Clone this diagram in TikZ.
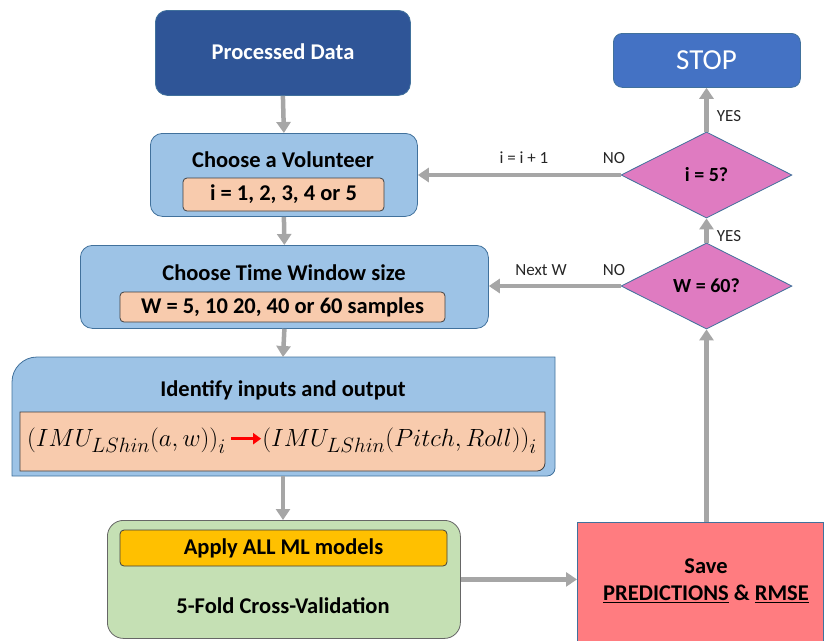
\documentclass[tikz,border=0pt]{standalone}
\usepackage{fontspec}
\setmainfont{Carlito}
\usetikzlibrary{shapes.geometric,arrows.meta}
\definecolor{darkblue}{HTML}{2F5597}
\definecolor{lightblue}{HTML}{9DC3E6}
\definecolor{peach}{HTML}{F8CBAD}
\definecolor{stopblue}{HTML}{4472C4}
\definecolor{edgeblue}{HTML}{41719C}
\definecolor{pinkd}{HTML}{DF7BC1}
\definecolor{greenb}{HTML}{C5E0B4}
\definecolor{yellowb}{HTML}{FFC000}
\definecolor{redb}{HTML}{FF7C80}
\definecolor{arrowgray}{HTML}{A6A6A6}
\tikzset{
  box/.style={draw=edgeblue, line width=0.8pt, rounded corners=12pt, inner sep=0pt, anchor=north west},
  inner/.style={draw=black!75, line width=0.8pt, fill=peach, rounded corners=4pt, inner sep=0pt},
  flow/.style={draw=arrowgray, line width=4.5pt, -{Triangle[length=11pt,width=14pt]}},
  dec/.style={diamond, draw=edgeblue, line width=0.8pt, fill=pinkd, aspect=2, inner sep=0pt, minimum width=171pt, minimum height=86pt, font=\fontsize{20}{22}\selectfont\bfseries},
  lbl/.style={font=\fontsize{17}{19}\selectfont, text=black!85},
  ttl/.style={font=\fontsize{22.5}{25}\selectfont\bfseries}
}
\newcommand{\redarr}{\tikz[baseline=-0.6ex]\draw[red, line width=2.5pt, -{Triangle[length=8pt,width=11pt]}] (0,0) -- (30pt,0);}
\begin{document}
\begin{tikzpicture}[x=1pt,y=-1pt]
\useasboundingbox (0,0) rectangle (824,640);
% Processed data
\node[box, fill=darkblue, minimum width=255pt, minimum height=85pt] (pd) at (155,10) {};
\node[ttl, text=white] at (283,52) {Processed Data};
% Volunteer
\node[box, fill=lightblue, minimum width=267pt, minimum height=83pt] (vol) at (150,133) {};
\node[ttl] at (283,160) {Choose a Volunteer};
\node[inner, minimum width=201pt, minimum height=33pt, ttl] (voli) at (283.5,194.5) {i = 1, 2, 3, 4 or 5};
% Time window
\node[box, fill=lightblue, minimum width=408pt, minimum height=83pt] (tw) at (80,245) {};
\node[ttl] at (284,273) {Choose Time Window size};
\node[inner, minimum width=325pt, minimum height=30pt, ttl] (twi) at (282.5,307) {W = 5, 10 20, 40 or 60 samples};
% Identify
\path[draw=edgeblue, line width=0.8pt, fill=lightblue]
  (12,382) arc[start angle=180, end angle=270, radius=25] -- (555,357) -- (555,468)
  arc[start angle=0, end angle=90, radius=8] -- (12,476) -- cycle;
\coordinate (idtop) at (283,357);
\coordinate (idbot) at (283,476);
\node[ttl] at (283,390) {Identify inputs and output};
\path[draw=black!75, line width=0.8pt, fill=peach]
  (20,412) -- (545,412) -- (545,463) arc[start angle=0, end angle=90, radius=8] -- (20,471) -- cycle;
\node[font=\fontsize{28}{30}\selectfont] at (282,441)
  {$\bigl(IMU_{LShin}(a,w)\bigr)_i\,$\redarr$\bigl(IMU_{LShin}(Pitch,Roll)\bigr)_i$};
% Green
\node[box, draw=black!60, fill=greenb, minimum width=353pt, minimum height=118pt, rounded corners=16pt] (gr) at (107,520) {};
\node[draw=black!75, line width=0.8pt, fill=yellowb, rounded corners=4pt, minimum width=327pt, minimum height=36pt, ttl] (ap) at (283.5,548) {Apply ALL ML models};
\node[ttl] at (283,606) {5-Fold Cross-Validation};
% Red
\node[draw=edgeblue, line width=0.8pt, fill=redb, anchor=north west, minimum width=246pt, minimum height=120pt, inner sep=0pt] (rd) at (577,522) {};
\node[ttl, align=center] at (706,581) {Save\\[2pt] \underline{PREDICTIONS} \& \underline{RMSE}};
% STOP
\node[box, fill=stopblue, minimum width=187pt, minimum height=54pt, rounded corners=9pt] (stop) at (613,33) {};
\node[font=\fontsize{29}{31}\selectfont, text=white] at (706.5,60) {STOP};
% Diamonds
\node[dec] (i5) at (706.5,175) {i = 5?};
\node[dec] (w60) at (706.5,286) {W = 60?};
% Arrows
\draw[flow] (pd.south) -- (vol.north);
\draw[flow] (vol.south) -- (tw.north);
\draw[flow] (tw.south) -- (idtop);
\draw[flow] (idbot) -- (gr.north -| idbot);
\draw[flow] (gr.east) -- (rd.west |- gr.east);
\draw[flow] (rd.north -| w60.south) -- (w60.south);
\draw[flow] (w60.north) -- (i5.south);
\draw[flow] (i5.north) -- (stop.south -| i5.north);
\draw[flow] (i5.west) -- (vol.east |- i5.west);
\draw[flow] (w60.west) -- (tw.east |- w60.west);
% Labels
\node[lbl] at (729,116) {YES};
\node[lbl] at (729,236) {YES};
\node[lbl] at (614,158) {NO};
\node[lbl] at (524,158) {i = i + 1};
\node[lbl] at (614,270) {NO};
\node[lbl] at (541,270) {Next W};
\end{tikzpicture}
\end{document}
